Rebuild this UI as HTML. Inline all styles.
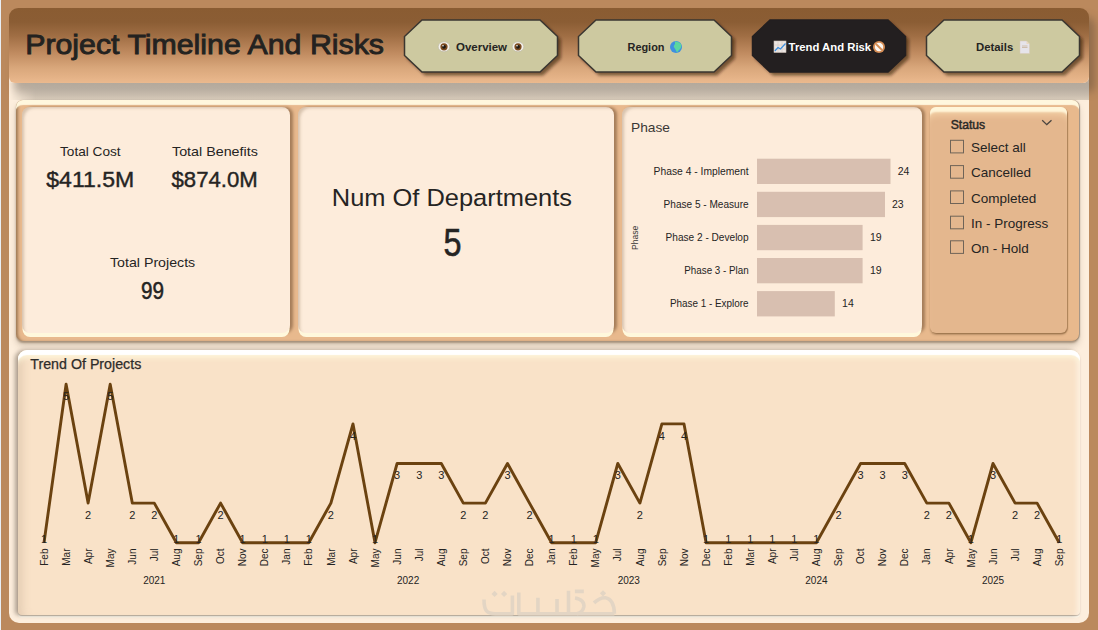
<!DOCTYPE html>
<html><head><meta charset="utf-8">
<style>
html,body{margin:0;padding:0;}
body{width:1098px;height:630px;overflow:hidden;position:relative;background:#bb895d;font-family:"Liberation Sans",sans-serif;color:#252423;}
.abs{position:absolute;}
#leftline{left:0;top:0;width:1px;height:630px;background:#e8eef5;}
#panel{left:9px;top:8px;width:1080px;height:615px;background:#fdeedd;border-radius:13px 13px 10px 10px;}
#header{left:9px;top:8px;width:1080px;height:75px;border-radius:9px 9px 6px 6px;box-shadow:6px 9px 8px rgba(80,65,50,.4);
 background:linear-gradient(to bottom,#8a5c32 0px,#8b5d34 14px,#a06e44 28px,#c08b60 45px,#d9a77b 60px,#ebb98e 75px);}
#hshadow{left:9px;top:83px;width:1080px;height:17px;background:linear-gradient(to bottom,#b4a697 0,#c4b8aa 6px,#e6dacb 12px,#fbeedf 17px);}
#topbox{left:16px;top:100px;width:1063px;height:241px;border-radius:7px;background:#e8b98d;
 box-shadow:0 2px 2px rgba(120,95,70,.5), 0 5px 6px rgba(130,110,90,.3), 1px 0 1px rgba(120,110,100,.6), inset 0 6px 1px -1px #fff7de, inset 3px 0 3px -1px rgba(110,80,50,.6);}
.card{position:absolute;background:#fdecdb;border-radius:8px;box-shadow:inset 4px 3px 3px -2px rgba(130,100,70,.3), 0 4.5px 0 -0.5px #fff8dc, 3px 0 3px -0.5px rgba(120,85,55,.6);}
#slicer{border-radius:6px !important;background:#e4b78e;box-shadow:inset 0 7px 2px -2px #fff6da, inset 0 12px 6px -4px #f3cfa5, 1px 1px 1px rgba(140,100,60,.6), 0 2px 2px rgba(90,60,30,.3);}
#trend{left:17.5px;top:349.5px;width:1062.5px;height:265.5px;border-radius:9px 9px 4px 4px;background:#f9e2c8;
 box-shadow:-3px 0 4px rgba(110,95,80,.55), inset 0 6px 1px -1px #ffffff, inset 0 11px 5px -3px #fdf4d8, inset 12px 0 10px -8px rgba(200,175,150,.45), inset -8px 0 5px -5px #fdf0e0, 0 1px 1px rgba(150,130,110,.5), 0 2.5px 0 #fffbf0;}
#hband{left:9px;top:83px;width:1080px;height:17px;background:linear-gradient(to bottom,#b4a99c 0,#b9aea1 35%,#c8bcad 70%,#d8cbba 100%);-webkit-mask-image:linear-gradient(to right,transparent 0,rgba(0,0,0,.5) 12px,#000 26px);}
svg#ov{position:absolute;left:0;top:0;}
svg text{font-family:"Liberation Sans",sans-serif;fill:#252423;}
.dl{font-size:11px;text-anchor:middle;}
.ml{font-size:10px;text-anchor:end;}
.yl{font-size:10px;text-anchor:middle;}
.bl{font-size:11.5px;font-weight:bold;}
</style></head><body>
<div class="abs" id="leftline"></div>
<div class="abs" id="panel"></div>
<div class="abs" id="header"></div>
<div class="abs" id="hband"></div>
<div class="abs" id="topbox"></div>
<div class="card" style="left:22px;top:107px;width:268px;height:226px;"></div>
<div class="card" style="left:298px;top:107px;width:316px;height:226px;"></div>
<div class="card" style="left:622px;top:107px;width:300px;height:226px;"></div>
<div class="card" id="slicer" style="left:930px;top:107px;width:137px;height:226px;"></div>
<div class="abs" id="trend"></div>

<svg id="ov" width="1098" height="630" viewBox="0 0 1098 630">
<defs>
 <filter id="bsh" x="-10%" y="-10%" width="130%" height="140%"><feGaussianBlur stdDeviation="1.5"/></filter>
</defs>
<!-- title -->
<text x="25.2" y="54.3" font-size="28.5" textLength="358.8" lengthAdjust="spacingAndGlyphs" style="fill:#232220;stroke:#232220;stroke-width:0.9">Project Timeline And Risks</text>

<!-- buttons -->
<g transform="translate(404,19.5)">
 <polygon transform="translate(3,3)" points="18,0 136,0 154,17 154,36 136,53 18,53 0,36 0,17" fill="rgba(40,25,10,.55)" filter="url(#bsh)"/>
 <polygon points="18,0.5 136,0.5 153.5,17 153.5,36 136,52.5 18,52.5 0.5,36 0.5,17" fill="#cdc9a0" stroke="#3a3630" stroke-width="1.5"/>
</g>
<g transform="translate(578,19.5)">
 <polygon transform="translate(3,3)" points="18,0 136,0 154,17 154,36 136,53 18,53 0,36 0,17" fill="rgba(40,25,10,.55)" filter="url(#bsh)"/>
 <polygon points="18,0.5 136,0.5 153.5,17 153.5,36 136,52.5 18,52.5 0.5,36 0.5,17" fill="#cdc9a0" stroke="#3a3630" stroke-width="1.5"/>
</g>
<g transform="translate(752,19.5)">
 <polygon transform="translate(3,3)" points="18,0 136,0 154,17 154,36 136,53 18,53 0,36 0,17" fill="rgba(40,25,10,.55)" filter="url(#bsh)"/>
 <polygon points="18,0.5 136,0.5 153.5,17 153.5,36 136,52.5 18,52.5 0.5,36 0.5,17" fill="#231f20" stroke="#231f20" stroke-width="1.5"/>
</g>
<g transform="translate(926,19.5)">
 <polygon transform="translate(3,3)" points="18,0 136,0 154,17 154,36 136,53 18,53 0,36 0,17" fill="rgba(40,25,10,.55)" filter="url(#bsh)"/>
 <polygon points="18,0.5 136,0.5 153.5,17 153.5,36 136,52.5 18,52.5 0.5,36 0.5,17" fill="#cdc9a0" stroke="#3a3630" stroke-width="1.5"/>
</g>
<text x="456" y="50.7" class="bl" textLength="51" lengthAdjust="spacingAndGlyphs">Overview</text>
<text x="627.5" y="50.7" class="bl" textLength="37" lengthAdjust="spacingAndGlyphs">Region</text>
<text x="788.6" y="50.7" class="bl" textLength="82.5" lengthAdjust="spacingAndGlyphs" style="fill:#fff">Trend And Risk</text>
<text x="976" y="50.7" class="bl" textLength="37.2" lengthAdjust="spacingAndGlyphs">Details</text>
<!-- eye icons -->
<g id="eye1" transform="translate(444,46.8)">
 <ellipse rx="5.8" ry="5" fill="#f4f1ea" stroke="#b9b5a5" stroke-width="0.6"/>
 <circle r="3.6" fill="#7b4a1f"/><circle r="1.9" fill="#1e1a16"/><circle cx="-1" cy="-1" r="0.8" fill="#fff"/>
</g>
<g transform="translate(518,46.8)">
 <ellipse rx="5.8" ry="5" fill="#f4f1ea" stroke="#b9b5a5" stroke-width="0.6"/>
 <circle r="3.6" fill="#7b4a1f"/><circle r="1.9" fill="#1e1a16"/><circle cx="-1" cy="-1" r="0.8" fill="#fff"/>
</g>
<!-- globe -->
<g transform="translate(676,47)">
 <circle r="6" fill="#3f8fe0"/>
 <path d="M-1,-5.8 C1,-5 3,-5.5 5,-3 C6,0 4.5,2 3,3 L1,5.5 C0,4 -0.5,2 -1.5,1 C-3,0 -2,-2 -1,-3 Z" fill="#5ad6a0"/>
</g>
<!-- chart icon -->
<g transform="translate(774,41)">
 <rect x="0" y="0" width="12" height="11.5" fill="#ece6e2" stroke="#cbbfb6" stroke-width="0.6"/>
 <path d="M0.5,4 H11.5 M0.5,8 H11.5 M4,0.5 V11 M8,0.5 V11" stroke="#d6cbc2" stroke-width="0.6"/>
 <path d="M0.8,10 L4,6.5 L6.5,8 L11.5,2.5" fill="none" stroke="#3b8fe0" stroke-width="1.2"/>
</g>
<!-- no entry icon -->
<g transform="translate(879,47)">
 <circle r="6" fill="#d58d55"/>
 <circle r="4.2" fill="#fbf7f2"/>
 <path d="M-3,-3 L3,3" stroke="#d58d55" stroke-width="1.8"/>
</g>
<!-- doc icon -->
<g transform="translate(1020,41)">
 <path d="M0,0 H6.5 L9.5,3 V12.5 H0 Z" fill="#e6e4ea" stroke="#d8cbb8" stroke-width="0.5"/>
 <path d="M6.5,0 V3 H9.5" fill="#e9d8c0"/>
 <path d="M2,5 H7.5 M2,6.5 H7.5" stroke="#c9b49c" stroke-width="0.8"/>
</g>

<!-- card 1 -->
<text x="60" y="156" font-size="13" textLength="60.6" lengthAdjust="spacingAndGlyphs">Total Cost</text>
<text x="172" y="156" font-size="13" textLength="85.8" lengthAdjust="spacingAndGlyphs">Total Benefits</text>
<text x="46.3" y="187.4" font-size="21.5" textLength="88" lengthAdjust="spacingAndGlyphs" style="stroke:#252423;stroke-width:0.4">$411.5M</text>
<text x="171.5" y="187.4" font-size="21.5" textLength="86.3" lengthAdjust="spacingAndGlyphs" style="stroke:#252423;stroke-width:0.4">$874.0M</text>
<text x="110" y="266.8" font-size="13.5" textLength="85.2" lengthAdjust="spacingAndGlyphs">Total Projects</text>
<text x="141" y="298.6" font-size="23" textLength="23" lengthAdjust="spacingAndGlyphs" style="stroke:#252423;stroke-width:0.5">99</text>
<!-- card 2 -->
<text x="331.8" y="205.7" font-size="24.5" textLength="240.2" lengthAdjust="spacingAndGlyphs">Num Of Departments</text>
<text x="443.4" y="255.6" font-size="38" textLength="18" lengthAdjust="spacingAndGlyphs" style="stroke:#252423;stroke-width:0.6">5</text>
<!-- phase chart -->
<text x="631" y="131.9" font-size="13" textLength="39" lengthAdjust="spacingAndGlyphs" style="fill:#3a3836">Phase</text>
<text transform="translate(638.2,250) rotate(-90)" font-size="9.5" textLength="24.3" lengthAdjust="spacingAndGlyphs" style="fill:#3a3836">Phase</text>
<g fill="#d8bfb0">
 <rect x="757" y="158.7" width="133.5" height="25.3"/>
 <rect x="757" y="191.8" width="128" height="25.3"/>
 <rect x="757" y="224.9" width="105.6" height="25.3"/>
 <rect x="757" y="258" width="105.6" height="25.3"/>
 <rect x="757" y="291.1" width="77.8" height="25.3"/>
</g>
<g font-size="10.5" text-anchor="end">
 <text x="748.6" y="174.6" textLength="95" lengthAdjust="spacingAndGlyphs">Phase 4 - Implement</text>
 <text x="748.6" y="207.7" textLength="85" lengthAdjust="spacingAndGlyphs">Phase 5 - Measure</text>
 <text x="748.6" y="240.8" textLength="83" lengthAdjust="spacingAndGlyphs">Phase 2 - Develop</text>
 <text x="748.6" y="273.9" textLength="64.3" lengthAdjust="spacingAndGlyphs">Phase 3 - Plan</text>
 <text x="748.6" y="307" textLength="78.7" lengthAdjust="spacingAndGlyphs">Phase 1 - Explore</text>
</g>
<g font-size="10.5">
 <text x="897.7" y="174.6">24</text>
 <text x="892" y="207.7">23</text>
 <text x="870" y="240.8">19</text>
 <text x="870" y="273.9">19</text>
 <text x="842.1" y="307">14</text>
</g>
<!-- slicer -->
<text x="950.7" y="129" font-size="12" textLength="34.5" lengthAdjust="spacingAndGlyphs" style="fill:#2a2826;stroke:#2a2826;stroke-width:0.45">Status</text>
<path d="M1042.2,120.3 L1046.8,124.6 L1051.5,120.3" fill="none" stroke="#4b4540" stroke-width="1.3"/>
<g fill="none" stroke="#6f6458" stroke-width="1">
 <rect x="950.5" y="140.3" width="13" height="12.6"/>
 <rect x="950.5" y="165.6" width="13" height="12.6"/>
 <rect x="950.5" y="190.9" width="13" height="12.6"/>
 <rect x="950.5" y="216.2" width="13" height="12.6"/>
 <rect x="950.5" y="240.8" width="13" height="12.6"/>
</g>
<g font-size="13.5" style="fill:#3a3634">
 <text x="971" y="152.1">Select all</text>
 <text x="971" y="177.4">Cancelled</text>
 <text x="971" y="202.7">Completed</text>
 <text x="971" y="228">In - Progress</text>
 <text x="971" y="253.3">On - Hold</text>
</g>
<!-- trend chart -->
<text x="30.3" y="368.9" font-size="14" textLength="111" lengthAdjust="spacingAndGlyphs" style="fill:#2e2c2a;stroke:#2e2c2a;stroke-width:0.25">Trend Of Projects</text>
<polyline points="44.0,542.7 66.1,384.3 88.1,503.1 110.2,384.3 132.3,503.1 154.3,503.1 176.4,542.7 198.5,542.7 220.6,503.1 242.6,542.7 264.7,542.7 286.8,542.7 308.8,542.7 330.9,503.1 353.0,423.9 375.0,542.7 397.1,463.5 419.2,463.5 441.3,463.5 463.3,503.1 485.4,503.1 507.5,463.5 529.5,503.1 551.6,542.7 573.7,542.7 595.7,542.7 617.8,463.5 639.9,503.1 661.9,423.9 684.0,423.9 706.1,542.7 728.2,542.7 750.2,542.7 772.3,542.7 794.4,542.7 816.4,542.7 838.5,503.1 860.6,463.5 882.6,463.5 904.7,463.5 926.8,503.1 948.9,503.1 970.9,542.7 993.0,463.5 1015.1,503.1 1037.1,503.1 1059.2,542.7" fill="none" stroke="#6b4210" stroke-width="2.9" stroke-linejoin="round"/>
<text x="44.0" y="542.9" class="dl">1</text>
<text x="66.1" y="399.9" class="dl">5</text>
<text x="88.1" y="518.7" class="dl">2</text>
<text x="110.2" y="399.9" class="dl">5</text>
<text x="132.3" y="518.7" class="dl">2</text>
<text x="154.3" y="518.7" class="dl">2</text>
<text x="176.4" y="542.9" class="dl">1</text>
<text x="198.5" y="542.9" class="dl">1</text>
<text x="220.6" y="518.7" class="dl">2</text>
<text x="242.6" y="542.9" class="dl">1</text>
<text x="264.7" y="542.9" class="dl">1</text>
<text x="286.8" y="542.9" class="dl">1</text>
<text x="308.8" y="542.9" class="dl">1</text>
<text x="330.9" y="518.7" class="dl">2</text>
<text x="353.0" y="439.5" class="dl">4</text>
<text x="375.0" y="542.9" class="dl">1</text>
<text x="397.1" y="479.1" class="dl">3</text>
<text x="419.2" y="479.1" class="dl">3</text>
<text x="441.3" y="479.1" class="dl">3</text>
<text x="463.3" y="518.7" class="dl">2</text>
<text x="485.4" y="518.7" class="dl">2</text>
<text x="507.5" y="479.1" class="dl">3</text>
<text x="529.5" y="518.7" class="dl">2</text>
<text x="551.6" y="542.9" class="dl">1</text>
<text x="573.7" y="542.9" class="dl">1</text>
<text x="595.7" y="542.9" class="dl">1</text>
<text x="617.8" y="479.1" class="dl">3</text>
<text x="639.9" y="518.7" class="dl">2</text>
<text x="661.9" y="439.5" class="dl">4</text>
<text x="684.0" y="439.5" class="dl">4</text>
<text x="706.1" y="542.9" class="dl">1</text>
<text x="728.2" y="542.9" class="dl">1</text>
<text x="750.2" y="542.9" class="dl">1</text>
<text x="772.3" y="542.9" class="dl">1</text>
<text x="794.4" y="542.9" class="dl">1</text>
<text x="816.4" y="542.9" class="dl">1</text>
<text x="838.5" y="518.7" class="dl">2</text>
<text x="860.6" y="479.1" class="dl">3</text>
<text x="882.6" y="479.1" class="dl">3</text>
<text x="904.7" y="479.1" class="dl">3</text>
<text x="926.8" y="518.7" class="dl">2</text>
<text x="948.9" y="518.7" class="dl">2</text>
<text x="970.9" y="542.9" class="dl">1</text>
<text x="993.0" y="479.1" class="dl">3</text>
<text x="1015.1" y="518.7" class="dl">2</text>
<text x="1037.1" y="518.7" class="dl">2</text>
<text x="1059.2" y="542.9" class="dl">1</text>
<text transform="translate(47.6,548.5) rotate(-90)" class="ml">Feb</text>
<text transform="translate(69.7,548.5) rotate(-90)" class="ml">Mar</text>
<text transform="translate(91.7,548.5) rotate(-90)" class="ml">Apr</text>
<text transform="translate(113.8,548.5) rotate(-90)" class="ml">May</text>
<text transform="translate(135.9,548.5) rotate(-90)" class="ml">Jun</text>
<text transform="translate(157.9,548.5) rotate(-90)" class="ml">Jul</text>
<text transform="translate(180.0,548.5) rotate(-90)" class="ml">Aug</text>
<text transform="translate(202.1,548.5) rotate(-90)" class="ml">Sep</text>
<text transform="translate(224.2,548.5) rotate(-90)" class="ml">Oct</text>
<text transform="translate(246.2,548.5) rotate(-90)" class="ml">Nov</text>
<text transform="translate(268.3,548.5) rotate(-90)" class="ml">Dec</text>
<text transform="translate(290.4,548.5) rotate(-90)" class="ml">Jan</text>
<text transform="translate(312.4,548.5) rotate(-90)" class="ml">Feb</text>
<text transform="translate(334.5,548.5) rotate(-90)" class="ml">Mar</text>
<text transform="translate(356.6,548.5) rotate(-90)" class="ml">Apr</text>
<text transform="translate(378.6,548.5) rotate(-90)" class="ml">May</text>
<text transform="translate(400.7,548.5) rotate(-90)" class="ml">Jun</text>
<text transform="translate(422.8,548.5) rotate(-90)" class="ml">Jul</text>
<text transform="translate(444.9,548.5) rotate(-90)" class="ml">Aug</text>
<text transform="translate(466.9,548.5) rotate(-90)" class="ml">Sep</text>
<text transform="translate(489.0,548.5) rotate(-90)" class="ml">Oct</text>
<text transform="translate(511.1,548.5) rotate(-90)" class="ml">Nov</text>
<text transform="translate(533.1,548.5) rotate(-90)" class="ml">Dec</text>
<text transform="translate(555.2,548.5) rotate(-90)" class="ml">Jan</text>
<text transform="translate(577.3,548.5) rotate(-90)" class="ml">Feb</text>
<text transform="translate(599.3,548.5) rotate(-90)" class="ml">May</text>
<text transform="translate(621.4,548.5) rotate(-90)" class="ml">Jul</text>
<text transform="translate(643.5,548.5) rotate(-90)" class="ml">Aug</text>
<text transform="translate(665.5,548.5) rotate(-90)" class="ml">Sep</text>
<text transform="translate(687.6,548.5) rotate(-90)" class="ml">Nov</text>
<text transform="translate(709.7,548.5) rotate(-90)" class="ml">Dec</text>
<text transform="translate(731.8,548.5) rotate(-90)" class="ml">Feb</text>
<text transform="translate(753.8,548.5) rotate(-90)" class="ml">Mar</text>
<text transform="translate(775.9,548.5) rotate(-90)" class="ml">Apr</text>
<text transform="translate(798.0,548.5) rotate(-90)" class="ml">Jul</text>
<text transform="translate(820.0,548.5) rotate(-90)" class="ml">Aug</text>
<text transform="translate(842.1,548.5) rotate(-90)" class="ml">Sep</text>
<text transform="translate(864.2,548.5) rotate(-90)" class="ml">Oct</text>
<text transform="translate(886.2,548.5) rotate(-90)" class="ml">Nov</text>
<text transform="translate(908.3,548.5) rotate(-90)" class="ml">Dec</text>
<text transform="translate(930.4,548.5) rotate(-90)" class="ml">Jan</text>
<text transform="translate(952.5,548.5) rotate(-90)" class="ml">Apr</text>
<text transform="translate(974.5,548.5) rotate(-90)" class="ml">May</text>
<text transform="translate(996.6,548.5) rotate(-90)" class="ml">Jun</text>
<text transform="translate(1018.7,548.5) rotate(-90)" class="ml">Jul</text>
<text transform="translate(1040.7,548.5) rotate(-90)" class="ml">Aug</text>
<text transform="translate(1062.8,548.5) rotate(-90)" class="ml">Sep</text>
<text x="154.3" y="583.5" class="yl">2021</text>
<text x="408.1" y="583.5" class="yl">2022</text>
<text x="628.8" y="583.5" class="yl">2023</text>
<text x="816.4" y="583.5" class="yl">2024</text>
<text x="993.0" y="583.5" class="yl">2025</text>
<!-- watermark -->
<g fill="none" stroke="#e3d5c4" stroke-width="3.6" stroke-linecap="butt" stroke-linejoin="round">
 <path d="M484,599.5 C484,611 487,613.7 495,613.7 L512.4,613.7 L512.4,595.5"/>
 <path d="M518.8,592.5 L518.8,613.7 L614.4,613.7"/>
 <path d="M537.9,597.7 L537.9,613.7 M557,599 L557,613.7 M568.5,590.7 L568.5,613.7"/>
 <path d="M574.9,591.4 L583.8,591.4 M575,598 C582,599 584.5,603 583.8,607 C583,611 580,613 577,613.7"/>
 <path d="M594,602.9 C598,599 602,597.5 605.5,597.7 C611,598.5 614.4,605 614.4,613.7"/>
</g>
<g fill="#e3d5c4">
 <rect x="492.4" y="591.7" width="4.4" height="4.4" transform="rotate(45 494.6 593.9)"/>
 <rect x="501.9" y="591.7" width="4.4" height="4.4" transform="rotate(45 504.1 593.9)"/>
 <rect x="600.8" y="591.1" width="4.4" height="4.4" transform="rotate(45 603 593.3)"/>
</g>
</svg>
</body></html>
